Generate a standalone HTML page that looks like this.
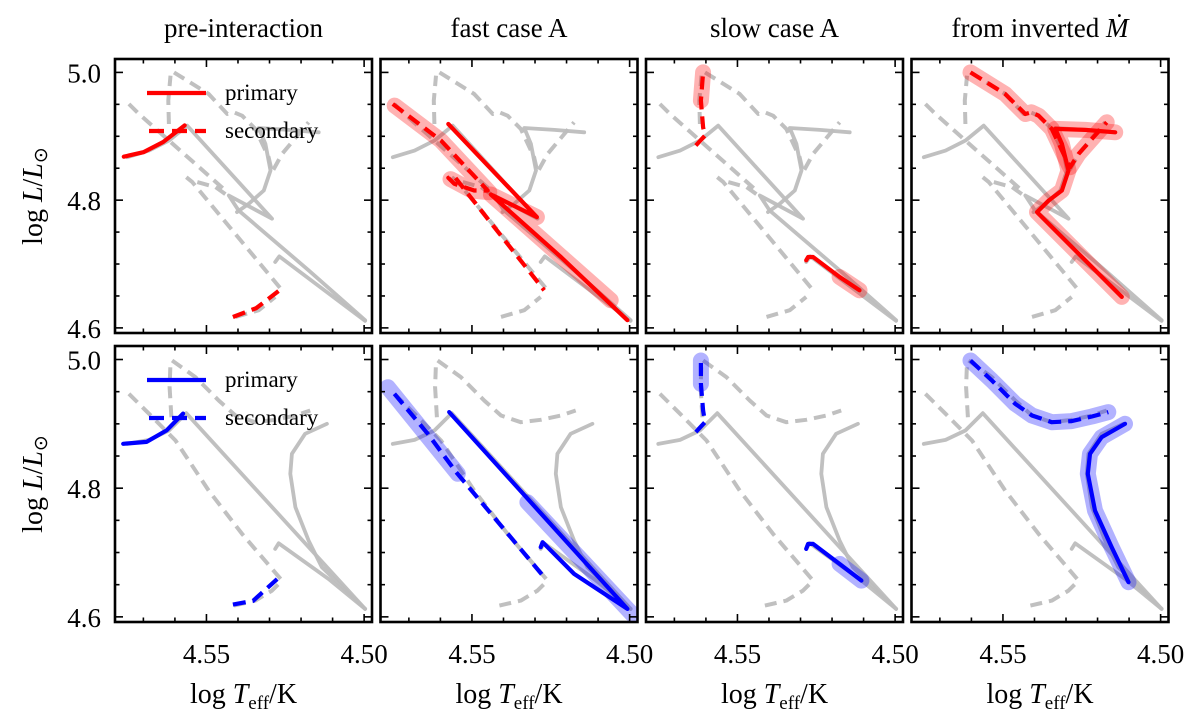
<!DOCTYPE html>
<html><head><meta charset="utf-8"><style>
html,body{margin:0;padding:0;background:#fff;}
svg{display:block;font-family:"Liberation Serif",serif;}
</style></head><body>
<svg id="fig" width="1200" height="717" viewBox="0 0 1200 717" xmlns="http://www.w3.org/2000/svg"></svg>
<script>
// ---- data (log Teff, log L) ----
const xTicksMajor = [4.55, 4.50];
const xTickLabels = ["4.55", "4.50"];
const yTicksMajor = [5.0, 4.8, 4.6];
const yTickLabels = ["5.0", "4.8", "4.6"];
const titles = ["pre-interaction", "fast case A", "slow case A", "from inverted "];

// grey tracks row 1
const g1_d1_T = [4.5619, 4.5621, 4.5614];
const g1_d1_L = [4.9193, 4.9558, 4.9948];
const g1_d2_T = [4.5603, 4.5493, 4.5434, 4.5413, 4.5387, 4.5345, 4.5303, 4.5292, 4.5260, 4.5176];
const g1_d2_L = [5.0, 4.9662, 4.9349, 4.9375, 4.9323, 4.9115, 4.8672, 4.8438, 4.8724, 4.9219];
const g1_s1_T = [4.5144, 4.5239, 4.5334, 4.5313, 4.5297, 4.5318, 4.5366, 4.5403];
const g1_s1_L = [4.9063, 4.9100, 4.9130, 4.8881, 4.8464, 4.8151, 4.7943, 4.7813];
const g1_s2_T = [4.5751, 4.5682, 4.5619, 4.5561, 4.5292, 4.5429, 4.5398, 4.5176, 4.4997];
const g1_s2_L = [4.8672, 4.8776, 4.8933, 4.9167, 4.7709, 4.8073, 4.7839, 4.6902, 4.6120];
const g1_s3_T = [4.5282, 4.5269, 4.4997];
const g1_s3_L = [4.7032, 4.7120, 4.6110];
const g1_d3_T = [4.5746, 4.5714, 4.5440];
const g1_d3_L = [4.9506, 4.9349, 4.8151];
const g1_d4_T = [4.5564, 4.5545, 4.5260];
const g1_d4_L = [4.8360, 4.8282, 4.6589];
const g1_d5_T = [4.5529, 4.5471, 4.5434];
const g1_d5_L = [4.8282, 4.8204, 4.8073];
const g1_d6_T = [4.5408, 4.5334, 4.5282];
const g1_d6_L = [4.6172, 4.6277, 4.6485];

// grey tracks row 2
const g2_d1_T = [4.5611, 4.5617, 4.5614];
const g2_d1_L = [4.9104, 4.9570, 4.9959];
const g2_d2_T = [4.5609, 4.5535, 4.5461, 4.5408, 4.5345, 4.5282, 4.5218, 4.5171];
const g2_d2_L = [4.9985, 4.9726, 4.9363, 4.9130, 4.9026, 4.9063, 4.9130, 4.9208];
const g2_sL_T = [4.5118, 4.5187, 4.5229, 4.5234, 4.5218, 4.5176, 4.5134, 4.4997];
const g2_sL_L = [4.9000, 4.8845, 4.8534, 4.8223, 4.7704, 4.7186, 4.6771, 4.6123];
const g2_s2_T = [4.5751, 4.5682, 4.5619, 4.5564, 4.4997];
const g2_s2_L = [4.8689, 4.8751, 4.8897, 4.9166, 4.6123];
const g2_s3_T = [4.5282, 4.5271, 4.5113, 4.4997];
const g2_s3_L = [4.7056, 4.7144, 4.6590, 4.6123];
const g2_d3_T = [4.5746, 4.5682, 4.5598, 4.5493, 4.5387, 4.5260];
const g2_d3_L = [4.9467, 4.9156, 4.8741, 4.7963, 4.7290, 4.6564];
const g2_d4_T = [4.5413, 4.5345, 4.5292, 4.5260];
const g2_d4_L = [4.6175, 4.6253, 4.6408, 4.6564];

// red (row 1)
const r1_pri_T = [4.5762, 4.5700, 4.5637, 4.5569];
const r1_pri_L = [4.868, 4.875, 4.891, 4.917];
const r1_sec_T = [4.5416, 4.5342, 4.5268];
const r1_sec_L = [4.617, 4.631, 4.659];
const r2_pri_T = [4.5575, 4.5294, 4.5440, 4.5218, 4.5007];
const r2_pri_L = [4.9193, 4.7735, 4.8089, 4.7110, 4.6120];
const r2_sec_T = [4.5751, 4.5598, 4.5450, 4.5493, 4.5556, 4.5575, 4.5556, 4.5271];
const r2_sec_L = [4.9506, 4.8933, 4.8151, 4.8151, 4.8256, 4.8350, 4.8370, 4.6589];
const r2_bandP_T = [4.5294, 4.5440, 4.5060];
const r2_bandP_L = [4.7735, 4.8089, 4.6433];
const r2_bandS_T = [4.5745, 4.5598, 4.5445, 4.5500, 4.5568];
const r2_bandS_L = [4.9480, 4.8933, 4.8125, 4.8150, 4.8330];
const r3_sec_T = [4.5632, 4.5603, 4.5609, 4.5616, 4.5609];
const r3_sec_L = [4.8855, 4.9011, 4.9141, 4.9558, 5.0000];
const r3_pri_T = [4.5282, 4.5276, 4.5260, 4.5176, 4.5113];
const r3_pri_L = [4.7058, 4.7110, 4.7110, 4.6797, 4.6589];
const r4_pri_T = [4.5144, 4.5239, 4.5334, 4.5313, 4.5292, 4.5313, 4.5355, 4.5392, 4.5123];
const r4_pri_L = [4.9063, 4.9100, 4.9115, 4.8881, 4.8464, 4.8151, 4.7995, 4.7813, 4.6485];
const r4_sec_T = [4.5603, 4.5493, 4.5429, 4.5410, 4.5387, 4.5345, 4.5303, 4.5287, 4.5260, 4.5171];
const r4_sec_L = [5.0000, 4.9662, 4.9349, 4.9375, 4.9323, 4.9115, 4.8672, 4.8516, 4.8724, 4.9219];

// blue (row 2)
const b1_pri_T = [4.5764, 4.5690, 4.5626, 4.5574];
const b1_pri_L = [4.869, 4.872, 4.890, 4.916];
const b1_sec_T = [4.5416, 4.5352, 4.5273];
const b1_sec_L = [4.619, 4.625, 4.660];
const b2_pri_T = [4.5572, 4.5007, 4.5176, 4.5276, 4.5282];
const b2_pri_L = [4.9182, 4.6123, 4.6667, 4.7160, 4.7082];
const b2_sec_T = [4.5746, 4.5640, 4.5550, 4.5271];
const b2_sec_L = [4.9467, 4.8845, 4.8249, 4.6616];
const b2_bandP_T = [4.5324, 4.4992];
const b2_bandP_L = [4.7782, 4.6045];
const b2_bandS_T = [4.5767, 4.5545];
const b2_bandS_L = [4.9570, 4.8223];
const b3_sec_T = [4.5632, 4.5603, 4.5609, 4.5616, 4.5616];
const b3_sec_L = [4.8871, 4.9026, 4.9208, 4.9622, 4.9985];
const b3_pri_T = [4.5282, 4.5276, 4.5260, 4.5176, 4.5107];
const b3_pri_L = [4.7056, 4.7134, 4.7134, 4.6823, 4.6564];
const b4_sec_T = [4.5603, 4.5535, 4.5461, 4.5408, 4.5345, 4.5282, 4.5218, 4.5166];
const b4_sec_L = [4.9985, 4.9674, 4.9311, 4.9130, 4.9026, 4.9042, 4.9114, 4.9182];
const b4_pri_T = [4.5113, 4.5187, 4.5224, 4.5231, 4.5208, 4.5155, 4.5102];
const b4_pri_L = [4.9000, 4.8793, 4.8534, 4.8223, 4.7652, 4.7082, 4.6538];

// ---- layout ----
const NS = "http://www.w3.org/2000/svg";
const svg = document.getElementById("fig");
const colLeft = [115, 380.5, 646, 911.5];
const panelW = 257;
const rowTop = [59, 346];
const panelH = [274, 276];
const xMin = 4.579, xMax = 4.4975, yMin = 4.592, yMax = 5.021;
function xs(c, t) { return colLeft[c] + (xMin - t) / (xMin - xMax) * panelW; }
function ys(r, l) { return rowTop[r] + (yMax - l) / (yMax - yMin) * panelH[r]; }
function mk(tag, attrs, parent) {
  const e = document.createElementNS(NS, tag);
  for (const k in attrs) e.setAttribute(k, attrs[k]);
  (parent || svg).appendChild(e);
  return e;
}
const RED = "#ff0000", BLUE = "#0000ff", GREY = "#bdbdbd";
function line(g, r, c, T, L, color, width, dash, opacity, name) {
  let d = "";
  for (let i = 0; i < T.length; i++) d += (i ? "L" : "M") + xs(c, T[i]).toFixed(1) + " " + ys(r, L[i]).toFixed(1);
  const p = mk("path", {d: d, fill: "none", stroke: color, "stroke-width": width,
    "stroke-linejoin": "round", "stroke-linecap": dash ? "butt" : "round", opacity: opacity});
  if (dash) p.setAttribute("stroke-dasharray", dash);
  
  
  g.appendChild(p);
  return p;
}
const greyRow = [
  [[g1_d1_T, g1_d1_L, 1], [g1_d2_T, g1_d2_L, 1], [g1_s1_T, g1_s1_L, 0], [g1_s2_T, g1_s2_L, 0], [g1_s3_T, g1_s3_L, 0],
   [g1_d3_T, g1_d3_L, 1], [g1_d4_T, g1_d4_L, 1], [g1_d5_T, g1_d5_L, 1], [g1_d6_T, g1_d6_L, 1]],
  [[g2_d1_T, g2_d1_L, 1], [g2_d2_T, g2_d2_L, 1], [g2_sL_T, g2_sL_L, 0], [g2_s2_T, g2_s2_L, 0], [g2_s3_T, g2_s3_L, 0],
   [g2_d3_T, g2_d3_L, 1], [g2_d4_T, g2_d4_L, 1]]
];
const colored = [
  [
    [[r1_pri_T, r1_pri_L, "p"], [r1_sec_T, r1_sec_L, "s"]],
    [[r2_bandS_T, r2_bandS_L, "b"], [r2_bandP_T, r2_bandP_L, "b"], [r2_sec_T, r2_sec_L, "s"], [r2_pri_T, r2_pri_L, "p"]],
    [[r3_sec_T.slice(3), r3_sec_L.slice(3), "b"], [r3_pri_T.slice(3), r3_pri_L.slice(3), "b"], [r3_sec_T, r3_sec_L, "s"], [r3_pri_T, r3_pri_L, "p"]],
    [[r4_pri_T, r4_pri_L, "b"], [r4_sec_T, r4_sec_L, "b"], [r4_sec_T, r4_sec_L, "s"], [r4_pri_T, r4_pri_L, "p"]]
  ],
  [
    [[b1_pri_T, b1_pri_L, "p"], [b1_sec_T, b1_sec_L, "s"]],
    [[b2_bandS_T, b2_bandS_L, "b"], [b2_bandP_T, b2_bandP_L, "b"], [b2_sec_T, b2_sec_L, "s"], [b2_pri_T, b2_pri_L, "p"]],
    [[b3_sec_T.slice(3), b3_sec_L.slice(3), "b"], [b3_pri_T.slice(3), b3_pri_L.slice(3), "b"], [b3_sec_T, b3_sec_L, "s"], [b3_pri_T, b3_pri_L, "p"]],
    [[b4_sec_T, b4_sec_L, "b"], [b4_pri_T, b4_pri_L, "b"], [b4_sec_T, b4_sec_L, "s"], [b4_pri_T, b4_pri_L, "p"]]
  ]
];

mk("rect", {x: 0, y: 0, width: 1200, height: 717, fill: "#fff"});
const defs = mk("defs", {});
for (let r = 0; r < 2; r++) {
  for (let c = 0; c < 4; c++) {
    const cp = mk("clipPath", {id: "cp" + r + c}, defs);
    mk("rect", {x: colLeft[c], y: rowTop[r], width: panelW, height: panelH[r]}, cp);
    const g = mk("g", {"clip-path": "url(#cp" + r + c + ")"});
    
    
    greyRow[r].forEach((s, i) => line(g, r, c, s[0], s[1], GREY, s[2] ? 4 : 3.8, s[2] ? "12 7" : null, 0.95, "grey-track-" + i));
    const col = r === 0 ? RED : BLUE;
    colored[r][c].forEach((s, i) => {
      if (s[2] === "b") line(g, r, c, s[0], s[1], col, 16, null, 0.3, "mass-transfer-band");
      else if (s[2] === "s") line(g, r, c, s[0], s[1], col, 4.2, "13 7", 1, "secondary-track");
      else line(g, r, c, s[0], s[1], col, 4.2, null, 1, "primary-track");
    });
    const fr = mk("rect", {x: colLeft[c], y: rowTop[r], width: panelW, height: panelH[r], fill: "none", stroke: "#000", "stroke-width": 2.6});
    
    
    const tg = mk("g", {stroke: "#000", "stroke-width": 1.6});
    
    
    const top = rowTop[r], bot = rowTop[r] + panelH[r], L0 = colLeft[c], R0 = colLeft[c] + panelW;
    for (let k = 0; k <= 8; k++) {
      const t = 4.57 - k * 0.01;
      const maj = xTicksMajor.some(v => Math.abs(v - t) < 1e-6);
      const len = maj ? 8 : 4.5, x = xs(c, t);
      if (x < L0 || x > R0) continue;
      mk("line", {x1: x, y1: bot, x2: x, y2: bot - len}, tg);
      mk("line", {x1: x, y1: top, x2: x, y2: top + len}, tg);
    }
    for (let k = 0; k <= 8; k++) {
      const l = 4.6 + k * 0.05;
      const maj = yTicksMajor.some(v => Math.abs(v - l) < 1e-6);
      const len = maj ? 8 : 4.5, y = ys(r, l);
      mk("line", {x1: L0, y1: y, x2: L0 + len, y2: y}, tg);
      mk("line", {x1: R0, y1: y, x2: R0 - len, y2: y}, tg);
    }
    if (c === 0) {
      yTicksMajor.forEach((v, i) => {
        const t = mk("text", {x: 101, y: ys(r, v) + 10, "text-anchor": "end", "font-size": 27, fill: "#000"});
        t.textContent = yTickLabels[i];
        
        
      });
    }
    if (r === 1) {
      xTicksMajor.forEach((v, i) => {
        const t = mk("text", {x: xs(c, v), y: 663, "text-anchor": "middle", "font-size": 27, fill: "#000"});
        t.textContent = xTickLabels[i];
        
        
      });
      const xl = mk("text", {x: colLeft[c] + panelW / 2, y: 703, "text-anchor": "middle", "font-size": 28, fill: "#000"});
      xl.innerHTML = 'log <tspan font-style="italic">T</tspan><tspan font-size="19" dy="6">eff</tspan><tspan dy="-6">/K</tspan>';
      
      
    }
  }
  const yl = mk("text", {x: 0, y: 0, "text-anchor": "middle", "font-size": 28, fill: "#000",
    transform: "translate(42," + (rowTop[r] + panelH[r] / 2) + ") rotate(-90)"});
  yl.innerHTML = 'log <tspan font-style="italic">L</tspan>/<tspan font-style="italic">L</tspan><tspan font-size="19" dy="5">⊙</tspan>';
  
  
  const col = r === 0 ? RED : BLUE;
  const lg = mk("g", {});
  
  
  const ly1 = rowTop[r] + 34, ly2 = rowTop[r] + 72;
  mk("line", {x1: 147, y1: ly1, x2: 206, y2: ly1, stroke: col, "stroke-width": 4.2}, lg);
  mk("line", {x1: 149, y1: ly2, x2: 206, y2: ly2, stroke: col, "stroke-width": 4.2, "stroke-dasharray": "15 8"}, lg);
  const t1 = mk("text", {x: 225, y: ly1 + 7, "font-size": 23, fill: "#000"}, lg);
  t1.textContent = "primary";
  
  
  const t2 = mk("text", {x: 225, y: ly2 + 7, "font-size": 23, fill: "#000"}, lg);
  t2.textContent = "secondary";
  
  
}
titles.forEach((s, c) => {
  const t = mk("text", {x: colLeft[c] + panelW / 2, y: 37, "text-anchor": "middle", "font-size": 27, fill: "#000"});
  t.textContent = s;
  if (c === 3) {
    const ts = mk("tspan", {"font-style": "italic"}, t);
    ts.textContent = "Ṁ";
  }
  
  
});
</script>
</body></html>
